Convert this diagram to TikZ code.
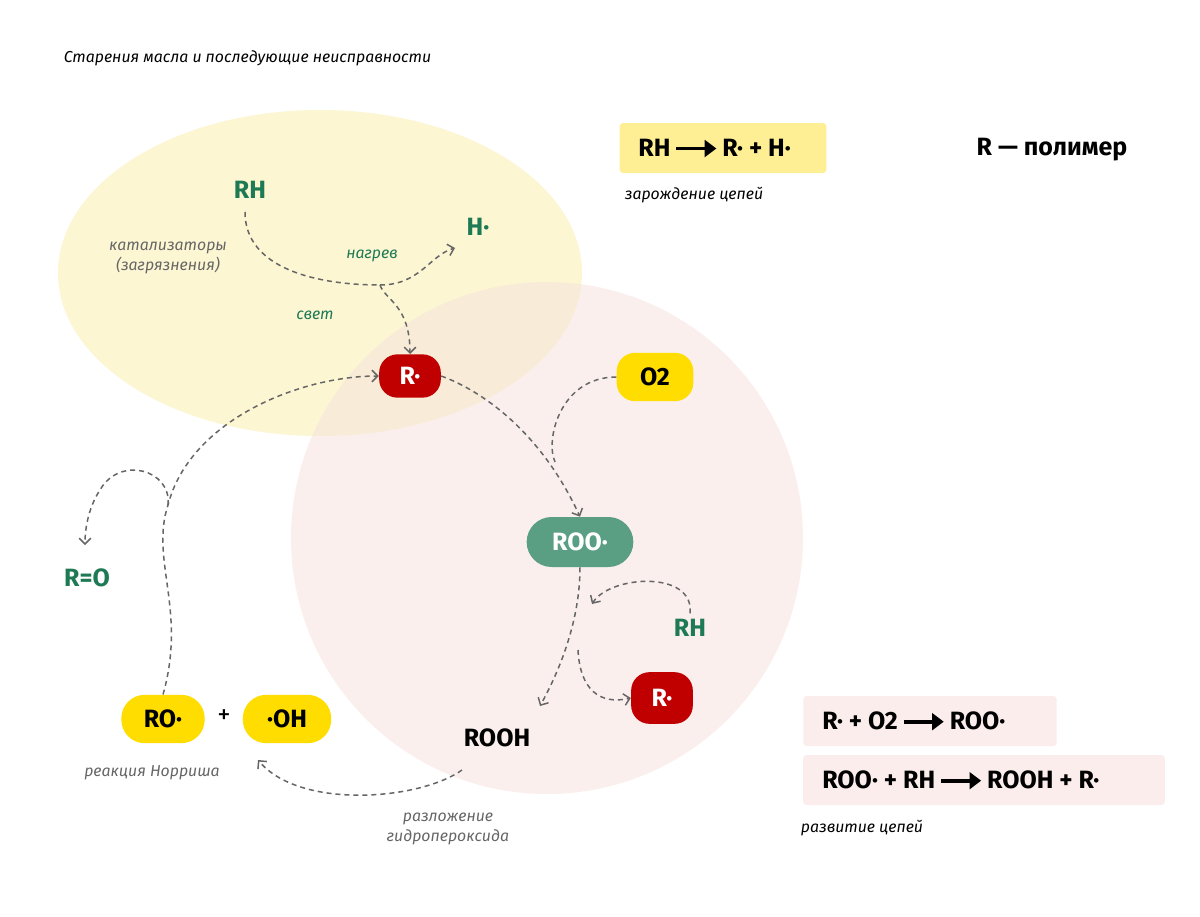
\documentclass[tikz,border=0pt]{standalone}
\usepackage{fontspec}
\setmainfont{Fira Sans}
\usetikzlibrary{arrows.meta}
\definecolor{grn}{HTML}{1E7A55}
\definecolor{redn}{HTML}{C00000}
\definecolor{yel}{HTML}{FFDD00}
\definecolor{teal2}{HTML}{5A9E84}
\definecolor{gy}{HTML}{666666}
\definecolor{ell}{HTML}{FBF3C4}
\definecolor{circ}{HTML}{F6E1DD}
\definecolor{boxy}{HTML}{FFEF94}
\definecolor{boxp}{HTML}{FAEDEC}
\begin{document}
\begin{tikzpicture}[x=0.6pt,y=-0.6pt,
 pill/.style={rounded corners=11pt,font=\bfseries\fontsize{15}{17}\selectfont,inner sep=0pt},
 lab/.style={font=\bfseries\fontsize{15}{17}\selectfont},
 small/.style={font=\itshape\fontsize{9.5}{12}\selectfont},
 arr/.style={gy,dashed,dash pattern=on 3pt off 2.4pt,line width=0.9pt,-{Straight Barb[length=3.5pt,width=7pt]}},
 ln/.style={gy,dashed,dash pattern=on 3pt off 2.4pt,line width=0.9pt},
 chem/.style={font=\bfseries\fontsize{15}{17}\selectfont,inner sep=0pt,anchor=west}]
\newcommand{\rarr}{\,\tikz[baseline=-0.6ex]\draw[line width=2.2pt,-{Triangle[length=7pt,width=10pt]}](0,0)--(24pt,0);\,}
\useasboundingbox (0,0) rectangle (1200,917);
\fill[white] (0,0) rectangle (1200,917);
\fill[ell,fill opacity=0.75] (320,273) ellipse [x radius=262,y radius=163];
\fill[circ,fill opacity=0.5] (547,538) circle [radius=256];

\node[small,anchor=west] (title) at (58,58) {Старения масла и последующие неисправности};

\node[lab,text=grn] (rh1) at (250,190) {RH};
\node[lab,text=grn] (h) at (478,227) {H·};
\node[small,text=gy,align=center] (cat) at (168,258) {катализаторы\\(загрязнения)};
\node[small,text=grn] (heat) at (372,256) {нагрев};
\node[small,text=grn] (light) at (315,315) {свет};

\node[pill,fill=redn,text=white,minimum width=37pt,minimum height=26pt] (r1) at (410,376) {R·};
\node[pill,fill=yel,minimum width=46pt,minimum height=29pt] (o2) at (655,377) {O2};
\node[pill,fill=teal2,text=white,minimum width=64pt,minimum height=30pt,rounded corners=15pt] (roo) at (580,542) {ROO·};
\node[pill,fill=redn,text=white,minimum width=37pt,minimum height=31pt] (r2) at (662,698) {R·};
\node[lab,text=grn] (rh2) at (690,628) {RH};
\node[lab] (rooh) at (497,738) {ROOH};
\node[pill,fill=yel,minimum width=50pt,minimum height=29pt,rounded corners=14pt] (ro) at (163,719) {RO·};
\node[font=\fontsize{16}{18}\selectfont] (plus) at (224,717) {+};
\node[pill,fill=yel,minimum width=53pt,minimum height=29pt,rounded corners=14pt] (oh) at (287,719) {·OH};
\node[lab,text=grn] (ro2) at (87,578) {R=O};
\node[small,text=gy] (norr) at (152,773) {реакция Норриша};
\node[small,text=gy,align=center] (dec) at (448,829) {разложение\\гидропероксида};

\coordinate (j1) at (380,285);
\draw[ln] (245,212) .. controls (245,270) and (320,285) .. (j1);
\draw[arr] (j1) .. controls (420,285) and (430,255) .. (455,248);
\draw[arr] (j1) .. controls (385,300) and (410,305) .. (r1.north);
\coordinate (j2) at (555,462);
\draw[arr] (r1.east) .. controls (480,390) and (540,430) .. (roo.north);
\draw[ln] (o2.west) .. controls (560,377) and (545,440) .. (j2);
\coordinate (j3) at (578,650);
\draw[arr] (roo.south) .. controls (580,620) and (560,670) .. (540,706);
\draw[arr] (j3) .. controls (580,690) and (600,705) .. (r2.west);
\draw[arr] (rh2.north) .. controls (695,570) and (610,575) .. (592,604);
\draw[arr] (462,770) .. controls (420,800) and (300,810) .. (258,760);
\coordinate (j4) at (168,505);
\draw[arr] (ro.north) .. controls (187,610) and (150,560) .. (j4) .. controls (190,420) and (300,376) .. (r1.west);
\draw[arr] (j4) .. controls (172,470) and (120,455) .. (100,490) .. controls (90,505) and (85,525) .. (85,545);

\node[fill=boxy,rounded corners=2pt,minimum width=124pt,minimum height=30pt,inner sep=0pt] (b1) at (723,148) {};
\node[chem] (t1) at (638,148) {RH\rarr R· + H·};
\node[small] (zar) at (694,195) {зарождение цепей};
\node[font=\bfseries\fontsize{15}{17}\selectfont] (poly) at (1052,150) {R — полимер};

\node[fill=boxp,rounded corners=2pt,minimum width=152pt,minimum height=30pt,inner sep=0pt] (b2) at (930,721) {};
\node[chem] (t2) at (822,721) {R· + O2\rarr ROO·};
\node[fill=boxp,rounded corners=2pt,minimum width=217pt,minimum height=30pt,inner sep=0pt] (b3) at (984,780) {};
\node[chem] (t3) at (822,780) {ROO· + RH\rarr ROOH + R·};
\node[small] (raz) at (862,828) {развитие цепей};
\end{tikzpicture}
\end{document}
